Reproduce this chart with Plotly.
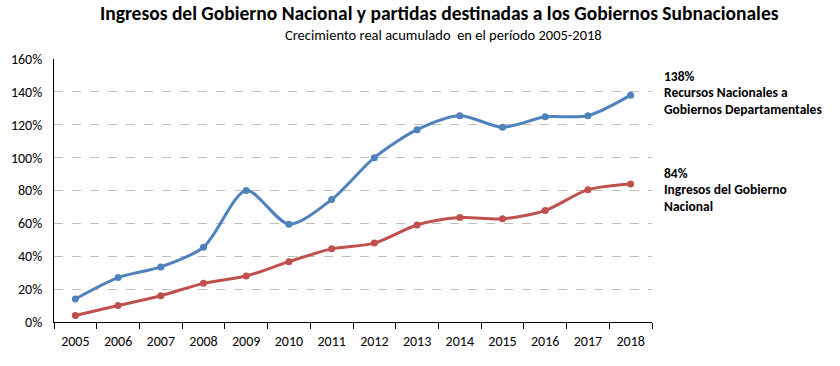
import plotly.graph_objects as go

years = ["2005", "2006", "2007", "2008", "2009", "2010", "2011", "2012", "2013", "2014", "2015", "2016", "2017", "2018"]
recursos_deptos = [14, 27, 33.5, 45.5, 80, 59.5, 74.5, 100, 117, 125.5, 118.5, 124.8, 125.5, 138]
ingresos_gn = [4, 10, 16, 23.5, 28, 36.7, 44.5, 48, 59, 63.5, 62.8, 67.8, 80.5, 84]
y_ticks = [0, 20, 40, 60, 80, 100, 120, 140, 160]
y_tick_labels = [f"{v}%" for v in y_ticks]

title_text = "Ingresos del Gobierno Nacional y partidas destinadas a los Gobiernos Subnacionales"
subtitle_text = "Crecimiento real acumulado  en el período 2005-2018"
label_deptos = ["138%", "Recursos Nacionales a", "Gobiernos Departamentales"]
label_gn = ["84%", "Ingresos del Gobierno", "Nacional"]

BLUE = "#4F81BD"
RED = "#C0504D"
FONT = "Carlito, 'Liberation Sans Narrow', 'Arial Narrow', 'Open Sans', sans-serif"

L, R, T, B = 54, 188, 59, 44
W, H = 840, 366
PH = H - T - B
PW = W - L - R


def py(pix):
    return (H - B - pix) / PH


def px(pix):
    return (pix - L) / PW


fig = go.Figure()
fig.add_trace(go.Scatter(x=years, y=recursos_deptos, mode="lines+markers",
                         line=dict(color=BLUE, width=3, shape="spline", smoothing=0.8),
                         marker=dict(color=BLUE, size=7), showlegend=False))
fig.add_trace(go.Scatter(x=years, y=ingresos_gn, mode="lines+markers",
                         line=dict(color=RED, width=3, shape="spline", smoothing=0.8),
                         marker=dict(color=RED, size=7), showlegend=False))

fig.update_layout(
    width=W, height=H,
    margin=dict(l=L, r=R, t=T, b=B, autoexpand=False),
    paper_bgcolor="white", plot_bgcolor="white",
    font=dict(family=FONT, color="#000000", size=12),
    xaxis=dict(type="category", showline=True, linecolor="#000000", linewidth=1,
               ticks="outside", tickson="boundaries", ticklen=6, tickcolor="#000000",
               showgrid=False, tickfont=dict(size=14), range=[-0.5, 13.5],
               ticklabelstandoff=6),
    yaxis=dict(range=[0, 160], tickvals=y_ticks, ticktext=y_tick_labels,
               showline=True, linecolor="#000000", linewidth=1,
               showgrid=True, gridcolor="#BFBFBF", griddash="dash", gridwidth=1,
               zeroline=False, ticks="", tickfont=dict(size=14), ticklabelstandoff=8),
)

fig.add_annotation(text=f"<b>{title_text}</b>", xref="paper", yref="paper",
                   x=px(439), y=py(13), xanchor="center", yanchor="middle",
                   showarrow=False, font=dict(size=19.5, family=FONT))
fig.add_annotation(text=subtitle_text, xref="paper", yref="paper",
                   x=px(443), y=py(35), xanchor="center", yanchor="middle",
                   showarrow=False, font=dict(size=14.5, family=FONT))

for lines, top in ((label_deptos, 76), (label_gn, 173)):
    for i, line in enumerate(lines):
        fig.add_annotation(text=f"<b>{line}</b>", xref="paper", yref="paper",
                           x=px(662), y=py(top + i * 16.5), xanchor="left", yanchor="middle",
                           align="left", showarrow=False, font=dict(size=13.5, family=FONT))

fig.write_html("out.html", config={"displayModeBar": False},
               post_script="document.body.style.margin='0';")
